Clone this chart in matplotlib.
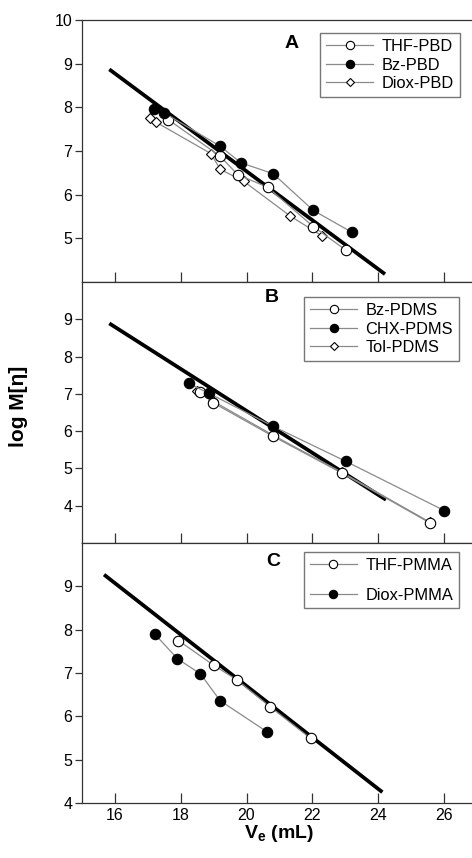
import matplotlib
matplotlib.use('Agg')
import matplotlib.pyplot as plt

plt.rcParams['font.family'] = ['Liberation Sans', 'DejaVu Sans']
plt.rcParams['mathtext.fontset'] = 'custom'
plt.rcParams['mathtext.bf'] = 'Liberation Sans:bold'
plt.rcParams['mathtext.rm'] = 'Liberation Sans'

# panel A: PBD
ref_a_x = [15.83, 24.21]
ref_a_y = [8.87, 4.18]
thf_pbd_x = [17.62, 19.20, 19.73, 20.64, 22.03, 23.02]
thf_pbd_y = [7.72, 6.88, 6.46, 6.17, 5.27, 4.73]
bz_pbd_x = [17.18, 17.50, 19.20, 19.83, 20.81, 22.03, 23.20]
bz_pbd_y = [7.96, 7.87, 7.11, 6.73, 6.48, 5.64, 5.14]
diox_pbd_x = [17.07, 17.25, 18.92, 19.20, 19.91, 21.33, 22.31]
diox_pbd_y = [7.76, 7.66, 6.94, 6.58, 6.31, 5.51, 5.05]

# panel B: PDMS
ref_b_x = [15.83, 24.24]
ref_b_y = [8.89, 4.16]
bz_pdms_x = [18.58, 18.99, 20.81, 22.89, 25.57]
bz_pdms_y = [7.05, 6.76, 5.86, 4.88, 3.54]
chx_pdms_x = [18.24, 18.87, 20.81, 23.02, 26.01]
chx_pdms_y = [7.28, 7.01, 6.13, 5.19, 3.87]
tol_pdms_x = [18.49, 18.99, 20.81, 22.89, 25.57]
tol_pdms_y = [7.09, 6.80, 5.89, 4.90, 3.56]

# panel C: PMMA
ref_c_x = [15.67, 24.13]
ref_c_y = [9.27, 4.25]
thf_pmma_x = [17.93, 19.00, 19.71, 20.72, 21.95]
thf_pmma_y = [7.75, 7.18, 6.84, 6.22, 5.49]
diox_pmma_x = [17.21, 17.90, 18.60, 19.20, 20.63]
diox_pmma_y = [7.90, 7.33, 6.98, 6.36, 5.64]

W, H = 472, 858
fig = plt.figure(figsize=(W / 100, H / 100), dpi=100)

left = 82 / W
width = 394.8 / W
panels = [(20, 282), (282, 543), (543, 803)]
axes = []
for top, bot in panels:
    ax = fig.add_axes([left, 1 - bot / H, width, (bot - top) / H])
    axes.append(ax)

line_kw = dict(color='#8a8a8a', lw=0.9, markeredgecolor='black', markeredgewidth=0.8)
open_c = dict(marker='o', ms=7.5, markerfacecolor='white', **line_kw)
fill_c = dict(marker='o', ms=7.5, markerfacecolor='black', **line_kw)
open_d = dict(marker='D', ms=5.2, markerfacecolor='white', **line_kw)
ref_kw = dict(color='black', lw=2.7, solid_capstyle='butt')

leg_kw = dict(loc='upper right', fontsize=11.8, handlelength=2.9, handletextpad=0.5,
              borderpad=0.35, markerscale=0.8, fancybox=False,
              edgecolor='#777777', framealpha=1)
order = [1, 2, 0]

ax = axes[0]
ax.plot(ref_a_x, ref_a_y, **ref_kw)
ax.plot(diox_pbd_x, diox_pbd_y, label='Diox-PBD', zorder=3, **open_d)
ax.plot(thf_pbd_x, thf_pbd_y, label='THF-PBD', zorder=3, **open_c)
ax.plot(bz_pbd_x, bz_pbd_y, label='Bz-PBD', zorder=4, **fill_c)
ax.set_ylim(4, 10)
ax.set_yticks([5, 6, 7, 8, 9, 10])
ax.text(0.532, 0.912, 'A', transform=ax.transAxes, fontsize=14, fontweight='bold',
        ha='center', va='center')
h, l = ax.get_legend_handles_labels()
ax.legend([h[i] for i in order], [l[i] for i in order],
          bbox_to_anchor=(0.977, 0.981), labelspacing=0.22, **leg_kw)

ax = axes[1]
ax.plot(ref_b_x, ref_b_y, **ref_kw)
ax.plot(tol_pdms_x, tol_pdms_y, label='Tol-PDMS', zorder=3, **open_d)
ax.plot(bz_pdms_x, bz_pdms_y, label='Bz-PDMS', zorder=3, **open_c)
ax.plot(chx_pdms_x, chx_pdms_y, label='CHX-PDMS', zorder=4, **fill_c)
ax.set_ylim(3, 10)
ax.set_yticks([4, 5, 6, 7, 8, 9])
ax.text(0.481, 0.939, 'B', transform=ax.transAxes, fontsize=14, fontweight='bold',
        ha='center', va='center')
h, l = ax.get_legend_handles_labels()
ax.legend([h[i] for i in order], [l[i] for i in order],
          bbox_to_anchor=(0.975, 0.973), labelspacing=0.22, **leg_kw)

ax = axes[2]
ax.plot(ref_c_x, ref_c_y, **ref_kw)
ax.plot(thf_pmma_x, thf_pmma_y, label='THF-PMMA', zorder=3, **open_c)
ax.plot(diox_pmma_x, diox_pmma_y, label='Diox-PMMA', zorder=4, **fill_c)
ax.set_ylim(4, 10)
ax.set_yticks([4, 5, 6, 7, 8, 9])
ax.text(0.484, 0.93, 'C', transform=ax.transAxes, fontsize=14, fontweight='bold',
        ha='center', va='center')
ax.legend(bbox_to_anchor=(0.975, 0.996), labelspacing=0.9, **leg_kw)
ax.set_xlabel(r'$\mathbf{V_e}$ (mL)', fontsize=14, fontweight='bold', labelpad=0)

for i, ax in enumerate(axes):
    ax.set_xlim(15, 27)
    ax.set_xticks([16, 18, 20, 22, 24, 26])
    ax.spines['right'].set_visible(False)
    for s in ax.spines.values():
        s.set_linewidth(0.9)
        s.set_color('#333333')
    ax.tick_params(axis='x', direction='in', length=7, width=0.9, labelsize=11.5,
                   color='#333333')
    ax.tick_params(axis='y', direction='out', length=5, width=0.9, labelsize=11.5,
                   pad=2, color='#333333')
    if i < 2:
        ax.tick_params(axis='x', labelbottom=False)

fig.text(18 / W, 1 - 406 / H, 'log M[η]', rotation=90, fontsize=15,
         fontweight='bold', ha='center', va='center')

fig.savefig('out.png', dpi=100)
